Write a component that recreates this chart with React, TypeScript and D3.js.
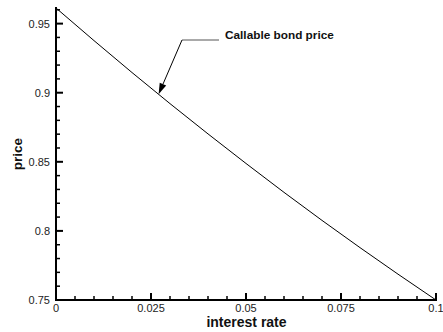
import React from "react";
import * as d3 from "d3";

const rates = [0, 0.01, 0.02, 0.03, 0.04, 0.05, 0.06, 0.07, 0.08, 0.09, 0.1];
const prices = [0.9613, 0.9377, 0.9146, 0.8921, 0.8702, 0.8488, 0.8279, 0.8076, 0.7879, 0.7687, 0.75];
const xMajor = [0, 0.025, 0.05, 0.075, 0.1];
const xMajorLabels = ["0", "0.025", "0.05", "0.075", "0.1"];
const yMajor = [0.75, 0.8, 0.85, 0.9, 0.95];
const yMajorLabels = ["0.75", "0.8", "0.85", "0.9", "0.95"];
const annotationText = "Callable bond price";
const annotationRate = 0.027;

export default function App() {
  const W = 443, H = 332;
  const left = 56, right = 436, top = 8, bottom = 300;
  const x = d3.scaleLinear().domain([0, 0.1]).range([left, right]);
  const y = d3.scaleLinear().domain([0.75, 0.9613]).range([bottom, top]);
  const line = d3.line<number>().x((_, i) => x(rates[i])).y((d) => y(d));
  const xMinor = d3.range(0, 0.1001, 0.005).filter((v) => Math.abs(v / 0.025 - Math.round(v / 0.025)) > 1e-6);
  const yMinor = d3.range(0.75, 0.9601, 0.01).filter((v) => Math.abs(v / 0.05 - Math.round(v / 0.05)) > 1e-6);
  const interp = d3.scaleLinear().domain(rates).range(prices);
  const tipX = x(annotationRate);
  const tipY = y(interp(annotationRate));
  const elbowX = 182, elbowY = 40;
  const ang = Math.atan2(tipY - elbowY, tipX - elbowX);
  const ah = 11, aw = 3.5;
  const bx = tipX - ah * Math.cos(ang), by = tipY - ah * Math.sin(ang);
  const px = -Math.sin(ang) * aw, py = Math.cos(ang) * aw;
  const font = "'Liberation Sans', Arial, sans-serif";
  return (
    <svg width={W} height={H} style={{ position: "absolute", left: 0, top: 0, background: "#fff" }} fontFamily={font}>
      <path d={line(prices) || ""} fill="none" stroke="#000" strokeWidth={1} />
      {/* axes */}
      <line x1={left} x2={left} y1={top - 1} y2={bottom + 1} stroke="#000" strokeWidth={2} />
      <line x1={left - 1} x2={right + 1} y1={bottom} y2={bottom} stroke="#000" strokeWidth={2} />
      {xMajor.map((v) => (
        <line key={"xm" + v} x1={x(v)} x2={x(v)} y1={bottom} y2={bottom - 7} stroke="#000" strokeWidth={2} />
      ))}
      {xMinor.map((v) => (
        <line key={"xn" + v} x1={x(v)} x2={x(v)} y1={bottom} y2={bottom - 4} stroke="#000" strokeWidth={1.5} />
      ))}
      {yMajor.map((v) => (
        <line key={"ym" + v} x1={left} x2={left + 7} y1={y(v)} y2={y(v)} stroke="#000" strokeWidth={2} />
      ))}
      {yMinor.map((v) => (
        <line key={"yn" + v} x1={left} x2={left + 4} y1={y(v)} y2={y(v)} stroke="#000" strokeWidth={1.5} />
      ))}
      {xMajor.map((v, i) => (
        <text key={"xl" + v} x={x(v)} y={bottom + 12} fontSize={11} textAnchor="middle" fill="#222">
          {xMajorLabels[i]}
        </text>
      ))}
      {yMajor.map((v, i) => (
        <text key={"yl" + v} x={left - 6} y={y(v) + 4} fontSize={11} textAnchor="end" fill="#222">
          {yMajorLabels[i]}
        </text>
      ))}
      <text x={(left + right) / 2 + 0.5} y={327} fontSize={14} fontWeight="bold" textAnchor="middle" fill="#111">
        interest rate
      </text>
      <text transform={`translate(22,${(top + bottom) / 2}) rotate(-90)`} fontSize={13.5} fontWeight="bold" textAnchor="middle" fill="#111">
        price
      </text>
      {/* annotation */}
      <line x1={219} x2={elbowX} y1={elbowY} y2={elbowY} stroke="#555" strokeWidth={1} />
      <line x1={elbowX} y1={elbowY} x2={bx} y2={by} stroke="#000" strokeWidth={1} />
      <polygon points={`${tipX},${tipY} ${bx + px},${by + py} ${bx - px},${by - py}`} fill="#000" />
      <text x={225} y={39} fontSize={11.8} fontWeight="bold" fill="#111">
        {annotationText}
      </text>
    </svg>
  );
}
